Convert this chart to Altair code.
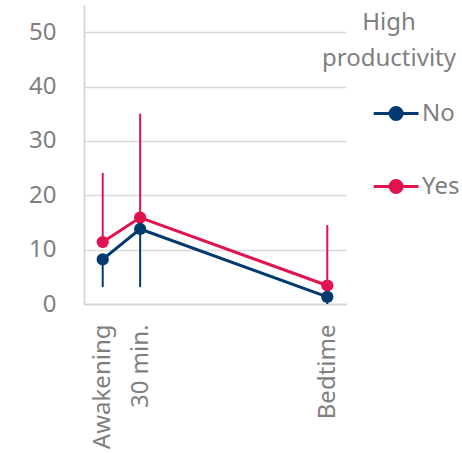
import altair as alt
import pandas as pd

# Measurement occasions (minutes after awakening) and their axis labels
timepoints = ["Awakening", "30 min.", "Bedtime"]
minutes = [0, 30, 180]

# Group means and one-sided error bar ends
no_mean = [8.2, 13.8, 1.3]
no_low = [3.1, 3.1, 0.0]
yes_mean = [11.4, 15.9, 3.4]
yes_high = [24.1, 35.0, 14.5]

groups = ["No", "Yes"]
colors = ["#003A70", "#E0134F"]

rows = []
for i, t in enumerate(timepoints):
    rows.append({"time": t, "minute": minutes[i], "group": "Yes",
                 "mean": yes_mean[i], "lo": yes_mean[i], "hi": yes_high[i]})
for i, t in enumerate(timepoints):
    rows.append({"time": t, "minute": minutes[i], "group": "No",
                 "mean": no_mean[i], "lo": no_low[i], "hi": no_mean[i]})
df = pd.DataFrame(rows)

label_expr = " : ".join(
    f"datum.value == {m} ? '{t}'" for m, t in zip(minutes, timepoints)
) + " : ''"

x = alt.X(
    "minute:Q",
    scale=alt.Scale(domain=[-15, 195], nice=False, zero=False),
    axis=alt.Axis(values=minutes, labelExpr=label_expr, title=None, grid=False,
                  ticks=False, labelAngle=270, labelPadding=20, labelFontSize=24,
                  labelColor="#7F7F7F", domainColor="#D0D0D0", domainWidth=1.5,
                  labelOverlap=False),
)
y_scale = alt.Scale(domain=[0, 55], nice=False)
y_axis = alt.Axis(values=[0, 10, 20, 30, 40, 50], title=None, ticks=False,
                  labelPadding=28, labelFontSize=24, labelColor="#7F7F7F",
                  gridColor="#D9D9D9", gridWidth=1.5, domainColor="#D0D0D0",
                  domainWidth=1.5)

stroke_scale = alt.Scale(domain=groups, range=colors)
fill_scale = alt.Scale(domain=groups, range=colors)

# Legend symbol: a short line with a dot, like the plotted series
symbol_path = ("M-2.2,0L1,0M-1.03,0A0.43,0.43 0 1,1 -0.17,0"
               "A0.43,0.43 0 1,1 -1.03,0Z")
legend = alt.Legend(
    title=["High", "productivity"], orient="none", legendX=238, legendY=6,
    titleFontSize=24, titleColor="#7F7F7F", titleFontWeight="normal",
    titleLineHeight=36, titleAlign="center", titleAnchor="start",
    titlePadding=27, labelFontSize=24, labelColor="#7F7F7F", labelOffset=2,
    symbolType=symbol_path, symbolSize=784, symbolStrokeWidth=3,
    rowPadding=45,
)

base = alt.Chart(df)

bars = base.mark_rule(strokeWidth=2).encode(
    x=x,
    y=alt.Y("lo:Q", scale=y_scale, axis=y_axis),
    y2="hi:Q",
    stroke=alt.Stroke("group:N", scale=stroke_scale, legend=legend),
)

lines = base.mark_line(strokeWidth=3).encode(
    x=x,
    y=alt.Y("mean:Q", scale=y_scale, axis=y_axis),
    stroke=alt.Stroke("group:N", scale=stroke_scale, legend=legend),
    detail="group:N",
)

points = base.mark_point(filled=True, size=150, opacity=1).encode(
    x=x,
    y=alt.Y("mean:Q", scale=y_scale, axis=y_axis),
    fill=alt.Fill("group:N", scale=fill_scale, legend=legend),
)

chart = alt.layer(bars, lines, points).properties(
    width=262, height=299,
    padding={"left": 28, "top": 5, "right": 0, "bottom": 0},
).configure(
    font="Noto Sans",
).configure_view(stroke=None)

chart.save("out.html", embed_options={"renderer": "svg", "actions": False})
